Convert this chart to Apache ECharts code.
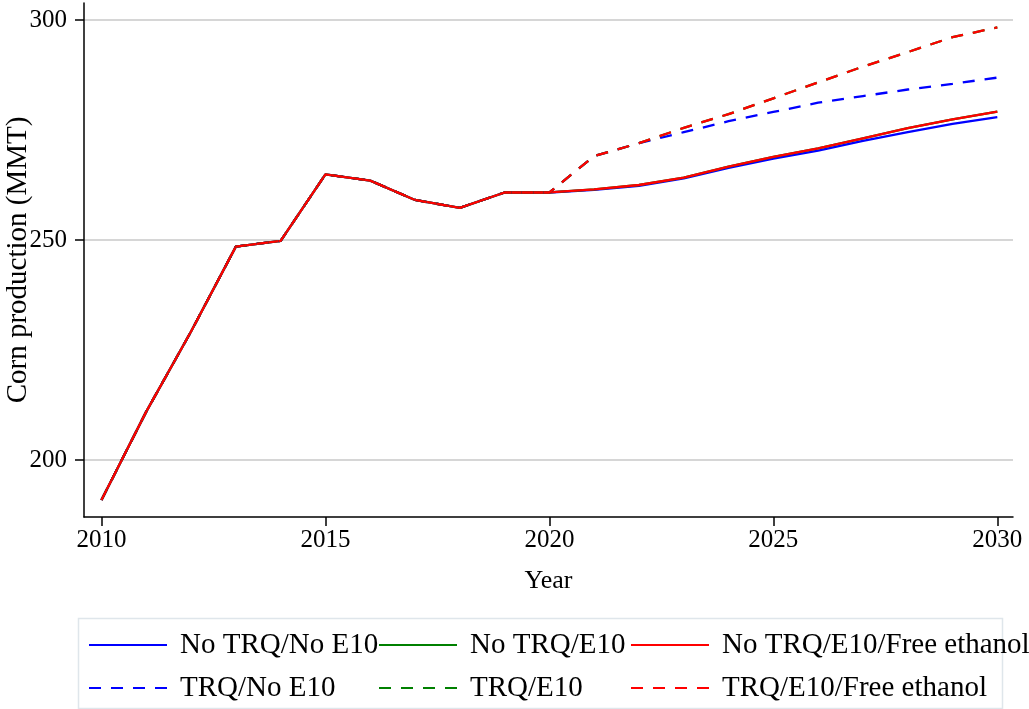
<!DOCTYPE html>
<html>
<head>
<meta charset="utf-8">
<title>Corn production scenarios</title>
<script src="https://cdn.jsdelivr.net/npm/echarts@6/dist/echarts.min.js"></script>
<style>
  html, body { margin: 0; padding: 0; background: #ffffff; }
  #chart { width: 1029px; height: 709px; }
</style>
</head>
<body>
<div id="chart"></div>
<script>
// Years shared by every scenario
const historyYears = [2010, 2011, 2012, 2013, 2014, 2015, 2016, 2017, 2018, 2019, 2020];
const projectionYears = [2021, 2022, 2023, 2024, 2025, 2026, 2027, 2028, 2029, 2030];

// Corn production (MMT), common path 2010-2020
const historyValues = [190.9, 211.0, 229.2, 248.5, 249.8, 264.9, 263.5, 259.1, 257.3, 260.8, 260.8];

// Scenario projections 2021-2030
const noTrqNoE10 = [261.4, 262.3, 264.0, 266.4, 268.5, 270.3, 272.5, 274.5, 276.4, 277.9];
const noTrqE10 = [261.5, 262.5, 264.2, 266.7, 268.9, 270.8, 273.1, 275.4, 277.4, 279.2];
const noTrqE10Free = [261.5, 262.5, 264.2, 266.7, 268.9, 270.8, 273.1, 275.4, 277.4, 279.2];
const trqNoE10 = [269.1, 272.0, 274.5, 277.0, 279.1, 281.2, 282.7, 284.2, 285.5, 286.9];
const trqE10 = [269.1, 272.0, 275.5, 278.6, 282.2, 285.8, 289.4, 292.7, 296.1, 298.3];
const trqE10Free = [269.1, 272.0, 275.5, 278.6, 282.2, 285.8, 289.4, 292.7, 296.1, 298.3];

// Tick labels
const xTicks = [2010, 2015, 2020, 2025, 2030];
const yTicks = [200, 250, 300];

const FONT = '"Liberation Serif", "Times New Roman", serif';
const DASH = [12, 10];

function buildSeriesData(projection) {
  const years = historyYears.concat(projectionYears);
  const values = historyValues.concat(projection);
  return years.map((y, i) => [y, values[i]]);
}

function lineSeries(name, color, projection, dashed) {
  return {
    name: name,
    type: 'line',
    symbol: 'none',
    data: buildSeriesData(projection),
    lineStyle: { color: color, width: 2.3, type: dashed ? DASH : 'solid' },
    itemStyle: { color: color },
    emphasis: { disabled: true }
  };
}

const legendBase = {
  orient: 'vertical',
  padding: 0,
  itemWidth: 78,
  itemHeight: 14,
  itemGap: 13,
  selectedMode: false,
  // line sample only, no marker on it
  itemStyle: { color: 'rgba(0,0,0,0)', borderWidth: 0, opacity: 0 },
  textStyle: {
    fontFamily: FONT,
    fontSize: 29,
    color: '#000',
    lineHeight: 30,
    padding: [0, 0, 0, 8]
  }
};

const chart = echarts.init(document.getElementById('chart'), null, { renderer: 'canvas' });

chart.setOption({
  animation: false,
  backgroundColor: '#ffffff',
  grid: { left: 84, right: 16, top: 3, bottom: 192, containLabel: false, outerBoundsMode: 'none' },
  xAxis: {
    type: 'value',
    min: 2009.61,
    max: 2030.35,
    name: 'Year',
    nameLocation: 'middle',
    nameGap: 51,
    nameMoveOverlap: false,
    nameTextStyle: { fontFamily: FONT, fontSize: 26, color: '#000' },
    axisLine: { show: true, lineStyle: { color: '#000', width: 1.5 } },
    axisTick: { show: true, length: 9, customValues: xTicks, lineStyle: { color: '#000', width: 1.5 } },
    axisLabel: {
      customValues: xTicks,
      formatter: (v) => String(v),
      fontFamily: FONT, fontSize: 25, color: '#000', margin: 11
    },
    splitLine: { show: false }
  },
  yAxis: {
    type: 'value',
    min: 187.05,
    max: 303.86,
    name: 'Corn production (MMT)',
    nameLocation: 'middle',
    nameGap: 51,
    nameMoveOverlap: false,
    nameTextStyle: { fontFamily: FONT, fontSize: 29, color: '#000' },
    axisLine: { show: true, lineStyle: { color: '#000', width: 1.5 } },
    axisTick: { show: true, length: 9, customValues: yTicks, lineStyle: { color: '#000', width: 1.5 } },
    axisLabel: {
      customValues: yTicks,
      formatter: (v) => String(v),
      fontFamily: FONT, fontSize: 25, color: '#000', margin: 17
    },
    splitLine: { show: true, lineStyle: { color: '#c8c8c8', width: 1.5 } }
  },
  legend: [
    Object.assign({}, legendBase, { left: 88, top: 630, data: ['No TRQ/No E10', 'TRQ/No E10'] }),
    Object.assign({}, legendBase, { left: 378, top: 630, data: ['No TRQ/E10', 'TRQ/E10'] }),
    Object.assign({}, legendBase, { left: 630, top: 630, data: ['No TRQ/E10/Free ethanol', 'TRQ/E10/Free ethanol'] })
  ],
  graphic: [{
    type: 'rect',
    left: 76,
    top: 616,
    shape: { width: 924, height: 90 },
    style: { fill: 'none', stroke: '#dfe6eb', lineWidth: 1.5 },
    silent: true,
    z: -1
  }],
  series: [
    lineSeries('No TRQ/No E10', '#0000ff', noTrqNoE10, false),
    lineSeries('No TRQ/E10', '#008000', noTrqE10, false),
    lineSeries('No TRQ/E10/Free ethanol', '#ff0000', noTrqE10Free, false),
    lineSeries('TRQ/No E10', '#0000ff', trqNoE10, true),
    lineSeries('TRQ/E10', '#008000', trqE10, true),
    lineSeries('TRQ/E10/Free ethanol', '#ff0000', trqE10Free, true)
  ]
});
</script>
</body>
</html>
